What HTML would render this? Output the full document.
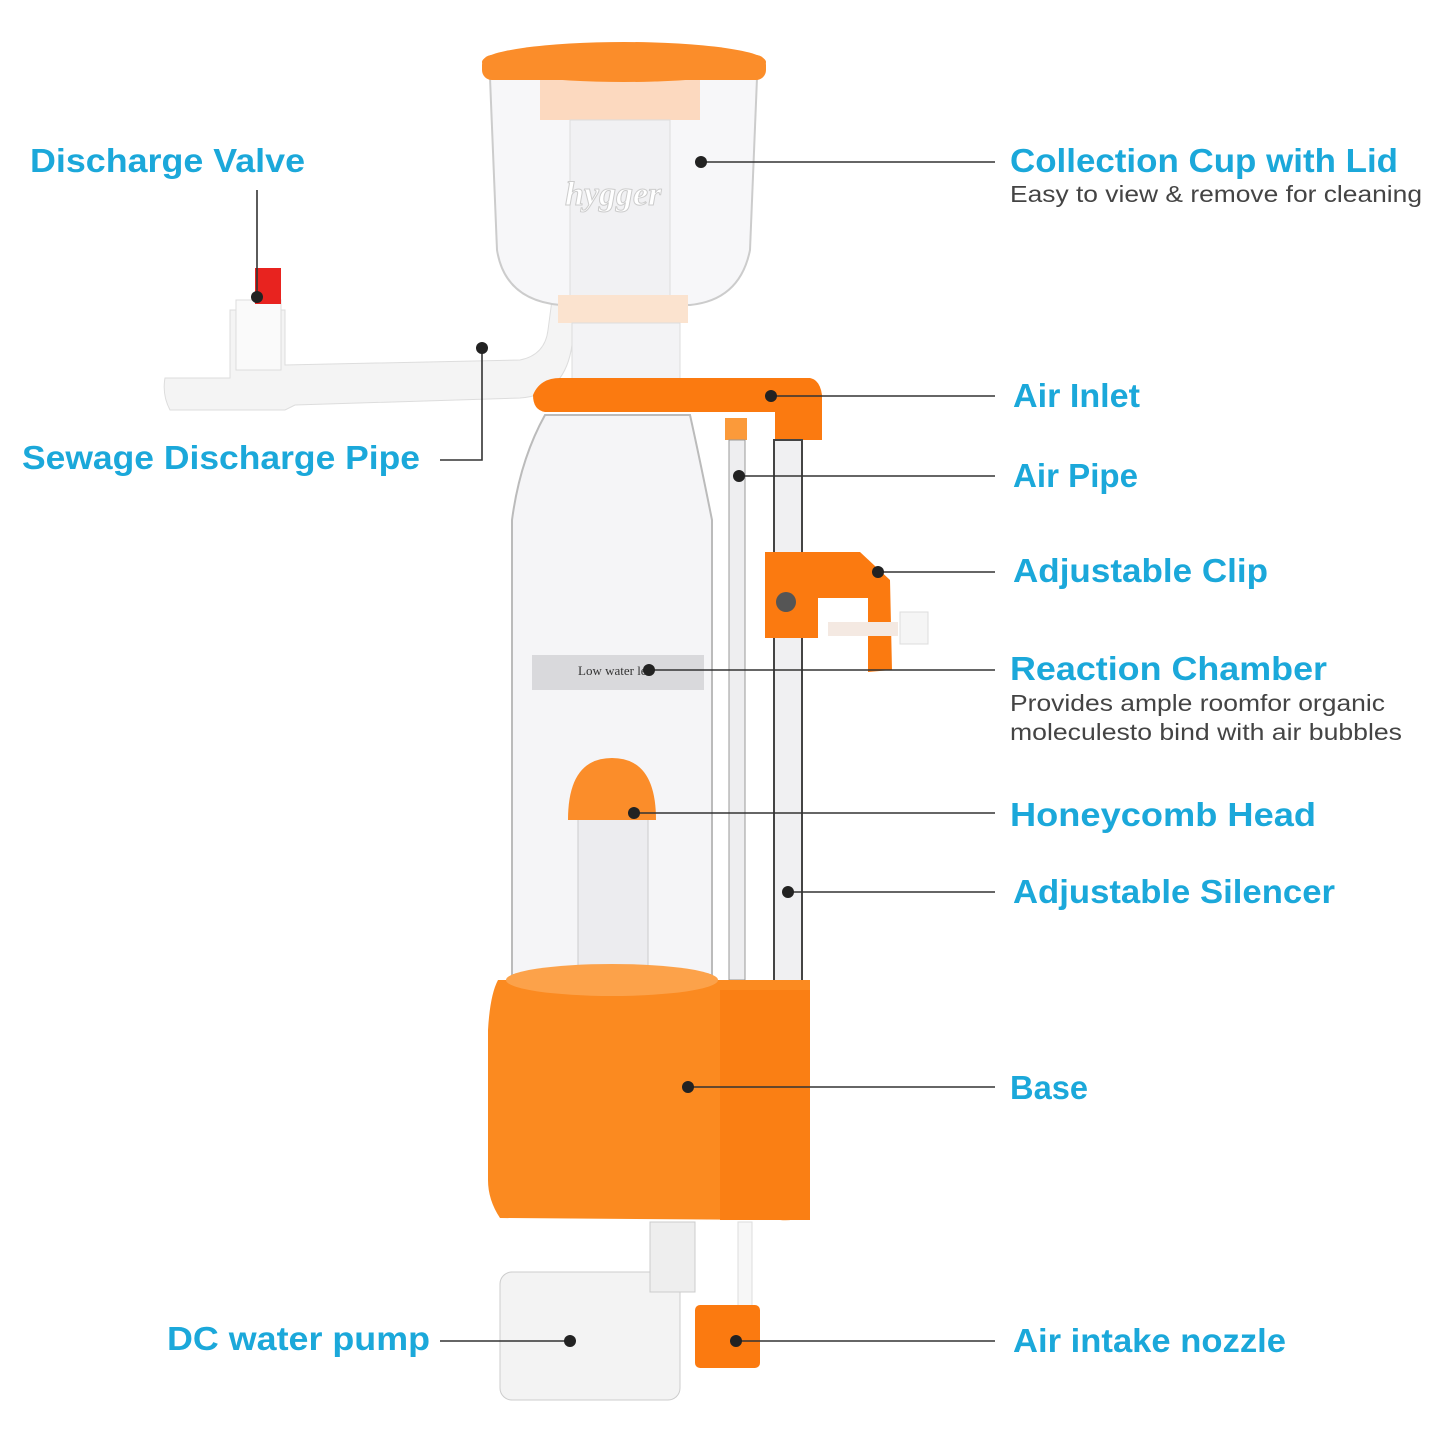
<!DOCTYPE html>
<html><head><meta charset="utf-8"><style>
html,body{margin:0;padding:0;background:#fff;}
svg{display:block;}
.l{font-family:"Liberation Sans",sans-serif;font-weight:bold;fill:#1ba8da;font-size:33px;}
.s{font-family:"Liberation Sans",sans-serif;fill:#444;font-size:23px;}
.ln{stroke:#333;stroke-width:1.6;fill:none;}
.d{fill:#222;}
</style></head><body>
<svg width="1445" height="1445" viewBox="0 0 1445 1445" xmlns="http://www.w3.org/2000/svg">
<!-- discharge pipe -->
<path d="M165 378 L230 378 L230 310 L285 310 L285 365 L520 360 Q545 355 548 330 L552 300 L575 305 L572 345 Q565 395 520 398 L295 405 L285 410 L230 410 L170 410 Q162 395 165 378Z" fill="#f4f4f4" stroke="#ddd"/>
<rect x="236" y="300" width="45" height="70" fill="#fafafa" stroke="#ddd"/>
<rect x="255" y="268" width="26" height="36" fill="#e8231f"/>
<!-- cup -->
<path d="M490 78 L757 78 L750 250 Q740 300 690 305 L560 305 Q505 300 497 250Z" fill="#f7f7f9" stroke="#ccc" stroke-width="2"/>
<rect x="540" y="80" width="160" height="40" fill="#fcd9bf"/>
<rect x="570" y="120" width="100" height="180" fill="#f1f1f3" stroke="#ddd"/>
<ellipse cx="624" cy="62" rx="142" ry="20" fill="#fb8d2a"/>
<rect x="482" y="55" width="284" height="25" rx="10" fill="#fb8d2a"/>
<text x="565" y="205" font-family="Liberation Serif" font-style="italic" font-weight="bold" font-size="34" fill="#fff" stroke="#ccc" stroke-width="1">hygger</text>
<rect x="558" y="295" width="130" height="28" fill="#fbe3cf"/>
<rect x="572" y="323" width="108" height="60" fill="#f3f3f5" stroke="#ddd"/>
<!-- chamber -->
<path d="M545 415 L690 415 Q700 460 712 520 L712 975 L512 975 L512 520 Q520 460 545 415Z" fill="#f5f5f7" stroke="#bbb" stroke-width="2"/>
<rect x="532" y="655" width="172" height="35" fill="#d9d9dc"/>
<text x="578" y="675" font-family="Liberation Serif" font-size="13" fill="#333">Low water le</text>
<rect x="578" y="810" width="70" height="165" fill="#ececef" stroke="#ccc"/>
<path d="M568 820 Q568 758 612 758 Q656 758 656 820Z" fill="#fb8d2a"/>
<!-- bracket -->
<path d="M533 395 Q540 378 560 378 L810 378 Q820 380 822 395 L822 440 L775 440 L775 412 L545 412 Q533 410 533 395Z" fill="#fb7a10"/>
<rect x="725" y="418" width="22" height="22" fill="#fb9a3a"/>
<rect x="729" y="440" width="16" height="540" fill="#eeeef0" stroke="#999"/>
<rect x="774" y="440" width="28" height="545" fill="#f0f0f2" stroke="#444" stroke-width="2"/>
<!-- clip -->
<path d="M765 552 L860 552 L890 580 L892 670 L868 672 L868 598 L818 598 L818 638 L765 638Z" fill="#fb7a10"/>
<circle cx="786" cy="602" r="10" fill="#555"/>
<rect x="828" y="622" width="70" height="14" fill="#f4e9e2"/>
<rect x="900" y="612" width="28" height="32" fill="#f5f5f5" stroke="#ddd"/>
<!-- base -->
<path d="M498 980 L810 980 L810 1210 Q800 1222 780 1220 L500 1218 Q488 1200 488 1180 L488 1030 Q490 995 498 980Z" fill="#fb8a20"/>
<ellipse cx="612" cy="980" rx="106" ry="16" fill="#fca24a"/>
<rect x="720" y="990" width="90" height="230" fill="#fa7f14"/>
<!-- pump -->
<rect x="500" y="1272" width="180" height="128" rx="12" fill="#f3f3f3" stroke="#ccc"/>
<rect x="650" y="1222" width="45" height="70" fill="#eee" stroke="#ccc"/>
<rect x="738" y="1222" width="14" height="90" fill="#f7f7f7" stroke="#ddd"/>
<rect x="695" y="1305" width="65" height="63" rx="5" fill="#fb7a10"/>
<!-- lines -->
<path class="ln" d="M701 162H995 M771 396H995 M739 476H995 M878 572H995 M649 670H995 M634 813H995 M788 892H995 M688 1087H995 M736 1341H995 M440 1341H570 M482 348V460H440 M257 297V190"/>
<g class="d"><circle cx="701" cy="162" r="6"/><circle cx="771" cy="396" r="6"/><circle cx="739" cy="476" r="6"/><circle cx="878" cy="572" r="6"/><circle cx="649" cy="670" r="6"/><circle cx="634" cy="813" r="6"/><circle cx="788" cy="892" r="6"/><circle cx="688" cy="1087" r="6"/><circle cx="736" cy="1341" r="6"/><circle cx="570" cy="1341" r="6"/><circle cx="482" cy="348" r="6"/><circle cx="257" cy="297" r="6"/></g>
<!-- labels -->
<text class="l" x="30" y="172" textLength="275" lengthAdjust="spacingAndGlyphs">Discharge Valve</text>
<text class="l" x="22" y="469" textLength="398" lengthAdjust="spacingAndGlyphs">Sewage Discharge Pipe</text>
<text class="l" x="167" y="1350" textLength="263" lengthAdjust="spacingAndGlyphs">DC water pump</text>
<text class="l" x="1010" y="172" textLength="388" lengthAdjust="spacingAndGlyphs">Collection Cup with Lid</text>
<text class="s" x="1010" y="202" textLength="412" lengthAdjust="spacingAndGlyphs">Easy to view &amp; remove for cleaning</text>
<text class="l" x="1013" y="407" textLength="127" lengthAdjust="spacingAndGlyphs">Air Inlet</text>
<text class="l" x="1013" y="487" textLength="125" lengthAdjust="spacingAndGlyphs">Air Pipe</text>
<text class="l" x="1013" y="582" textLength="255" lengthAdjust="spacingAndGlyphs">Adjustable Clip</text>
<text class="l" x="1010" y="680" textLength="317" lengthAdjust="spacingAndGlyphs">Reaction Chamber</text>
<text class="s" x="1010" y="711" textLength="375" lengthAdjust="spacingAndGlyphs">Provides ample roomfor organic</text>
<text class="s" x="1010" y="740" textLength="392" lengthAdjust="spacingAndGlyphs">moleculesto bind with air bubbles</text>
<text class="l" x="1010" y="826" textLength="306" lengthAdjust="spacingAndGlyphs">Honeycomb Head</text>
<text class="l" x="1013" y="903" textLength="322" lengthAdjust="spacingAndGlyphs">Adjustable Silencer</text>
<text class="l" x="1010" y="1099" textLength="78" lengthAdjust="spacingAndGlyphs">Base</text>
<text class="l" x="1013" y="1352" textLength="273" lengthAdjust="spacingAndGlyphs">Air intake nozzle</text>
</svg>
</body></html>
